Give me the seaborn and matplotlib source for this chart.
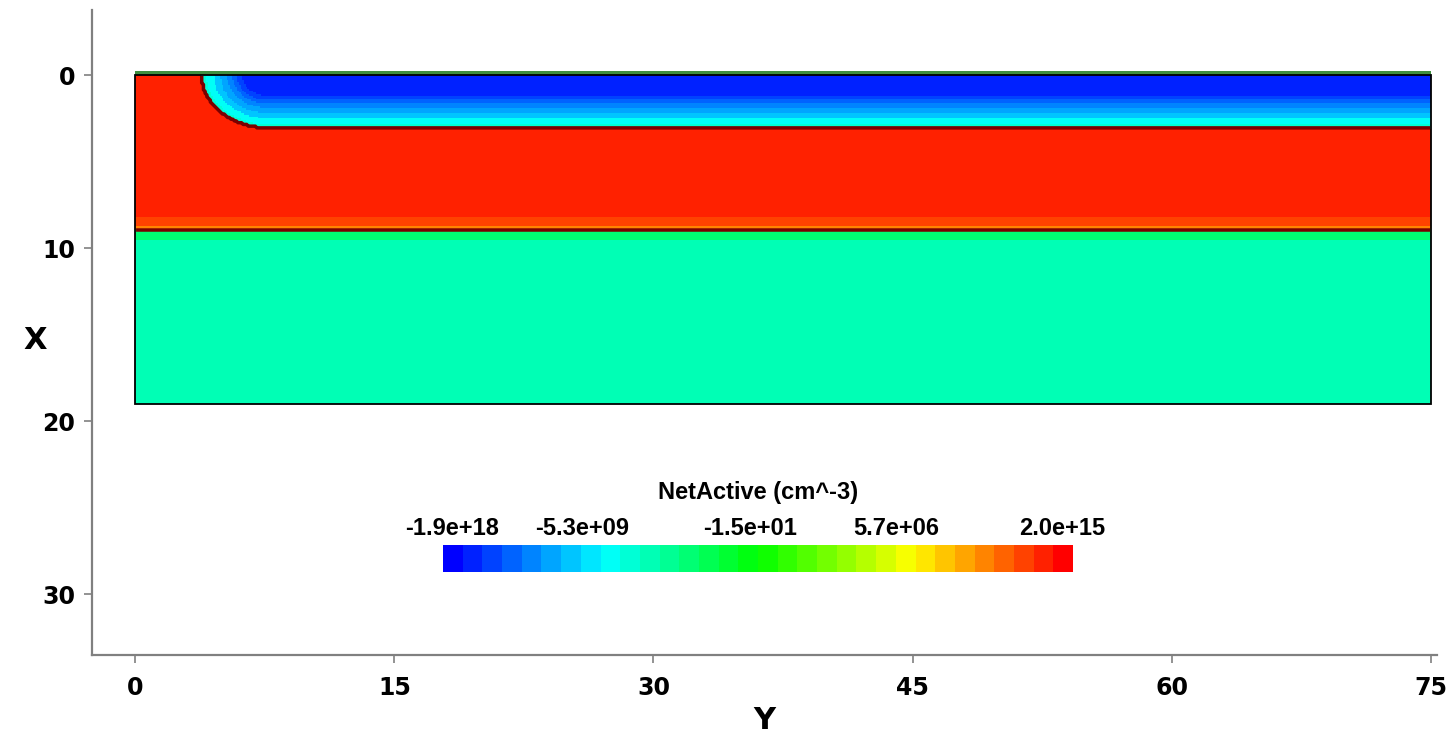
import numpy as np
import pandas as pd
import matplotlib
matplotlib.use("Agg")
import matplotlib.pyplot as plt
import seaborn as sns
from matplotlib.colors import ListedColormap, hsv_to_rgb
from matplotlib.patches import Rectangle

# ─── DATA (um, cm^-3) ───────────────────────────────────────────
DEVICE_WIDTH = 75.0        # along Y
DEVICE_DEPTH = 19.0        # along X
OXIDE_THICK  = 0.22
GRID_STEP    = 0.1

# p-epi / substrate profile vs depth X (band edges and NetActive per band)
EPI_EDGES  = [0.0, 8.2, 8.7, 8.95, 9.5, 19.0]
EPI_VALUES = [5.4e13, 4.8e12, 3.8e10, -1.4e5, -1.8e7]

# n+ region: rounded corner centred at Y = NPLUS_CORNER, lateral radius NPLUS_LATERAL
NPLUS_CORNER  = 7.7
NPLUS_LATERAL = 3.9
NPLUS_EDGES  = [0.0, 1.2, 1.45, 1.65, 1.9, 2.2, 2.5, 2.85, 3.1]
NPLUS_VALUES = [-5.0e16, -4.5e15, -4.0e14, -3.5e13, -3.2e12, -2.8e11, -2.3e9, -2.5e8]

# colour scale
SCALE_MIN = -1.9e18
SCALE_MAX = 2.0e15
N_LEVELS = 32
CBAR_LABELS = ["-1.9e+18", "-5.3e+09", "-1.5e+01", "5.7e+06", "2.0e+15"]
CBAR_TITLE = "NetActive (cm^-3)"

X_TICKS = [0, 10, 20, 30]
Y_TICKS = [0, 15, 30, 45, 60, 75]
# ────────────────────────────────────────────────────────────────


def slog(v):
    v = np.asarray(v, dtype=float)
    return np.sign(v) * np.log10(1 + np.abs(v))


def bands(v, edges, values):
    idx = np.clip(np.digitize(v, edges[1:-1]), 0, len(values) - 1)
    return np.asarray(values)[idx]


def to_idx(v):
    return np.asarray(v, dtype=float) / GRID_STEP


# build the NetActive field on the grid
ys = np.arange(0, DEVICE_WIDTH, GRID_STEP) + GRID_STEP / 2
xs = np.arange(0, DEVICE_DEPTH, GRID_STEP) + GRID_STEP / 2
Yg, Xg = np.meshgrid(ys, xs)

field = bands(Xg, EPI_EDGES, EPI_VALUES)
n_depth = NPLUS_EDGES[-1]
lateral = (Yg - NPLUS_CORNER) * n_depth / NPLUS_LATERAL
dist = np.where(Yg < NPLUS_CORNER, np.hypot(lateral, Xg), Xg)
field = np.where(dist < n_depth, bands(dist, NPLUS_EDGES, NPLUS_VALUES), field)

df = pd.DataFrame(slog(field), index=np.round(xs, 2), columns=np.round(ys, 2))

# rainbow, blue -> red, stepped
hues = np.linspace(240, 0, N_LEVELS) / 360
cmap = ListedColormap(hsv_to_rgb(np.column_stack([hues, np.ones(N_LEVELS), np.ones(N_LEVELS)])))
tmin, tmax = slog(SCALE_MIN), slog(SCALE_MAX)

sns.set_style("ticks")
plt.rcParams["font.family"] = ["DejaVu Sans"]
plt.rcParams["text.color"] = "black"

fig = plt.figure(figsize=(14.49, 7.35), dpi=100)
ax = fig.add_axes([92 / 1449, 80 / 735, 1345 / 1449, 645 / 735])

sns.heatmap(df, ax=ax, cmap=cmap, vmin=tmin, vmax=tmax, cbar=False,
            xticklabels=False, yticklabels=False, rasterized=True)

# junction lines
ax.contour(to_idx(Yg), to_idx(Xg), field, levels=[0], colors="#7a0000", linewidths=2.5)

# oxide on top + device outline
ax.add_patch(Rectangle((0, to_idx(-OXIDE_THICK)), to_idx(DEVICE_WIDTH), to_idx(OXIDE_THICK),
                       facecolor="#3f8f3f", edgecolor="none"))
ax.add_patch(Rectangle((0, 0), to_idx(DEVICE_WIDTH), to_idx(DEVICE_DEPTH),
                       fill=False, edgecolor="black", linewidth=1.3))

ax.set_xlim(to_idx(-2.5), to_idx(75.35))
ax.set_ylim(to_idx(33.5), to_idx(-3.76))

for side in ("left", "bottom"):
    ax.spines[side].set_visible(True)
    ax.spines[side].set_color("#808080")
    ax.spines[side].set_linewidth(1.6)
for side in ("top", "right"):
    ax.spines[side].set_visible(False)

ax.set_xticks(to_idx(Y_TICKS))
ax.set_xticklabels([str(t) for t in Y_TICKS], rotation=0)
ax.set_yticks(to_idx(X_TICKS))
ax.set_yticklabels([str(t) for t in X_TICKS], rotation=0)
ax.tick_params(axis="both", direction="out", length=6, width=1.2, color="#808080",
               labelsize=17, labelcolor="black")
ax.tick_params(axis="x", pad=9, bottom=True, top=False, labelbottom=True, labeltop=False)
ax.tick_params(axis="y", pad=6, left=True, right=False)
for lab in ax.get_xticklabels() + ax.get_yticklabels():
    lab.set_fontweight("bold")

ax.set_xlabel("Y", fontsize=22, fontweight="bold", color="black", va="center")
ax.set_ylabel("X", fontsize=22, fontweight="bold", color="black", rotation=0,
              va="center", ha="center")
ax.xaxis.set_label_coords(0.5, -0.101)
ax.yaxis.set_label_coords(-0.042, 0.488)

# colour bar
cax = fig.add_axes([443 / 1449, 163 / 735, 630 / 1449, 27 / 735])
steps = np.linspace(tmin, tmax, N_LEVELS + 1)
bar = pd.DataFrame([(steps[:-1] + steps[1:]) / 2])
sns.heatmap(bar, ax=cax, cmap=cmap, vmin=tmin, vmax=tmax, cbar=False,
            xticklabels=False, yticklabels=False)
cax.set_xticks([])
cax.set_yticks([])

label_pos = [0.014, 0.221, 0.487, 0.72, 0.983]
for pos, txt in zip(label_pos, CBAR_LABELS):
    cax.text(pos, 1.2, txt, transform=cax.transAxes, ha="center", va="bottom",
             fontsize=17, fontweight="bold", family=["Liberation Sans", "DejaVu Sans"])
cax.text(0.5, 2.5, CBAR_TITLE, transform=cax.transAxes, ha="center", va="bottom",
         fontsize=17, fontweight="bold", family=["Liberation Sans", "DejaVu Sans"])

fig.savefig("out.png", dpi=100, facecolor="white")
